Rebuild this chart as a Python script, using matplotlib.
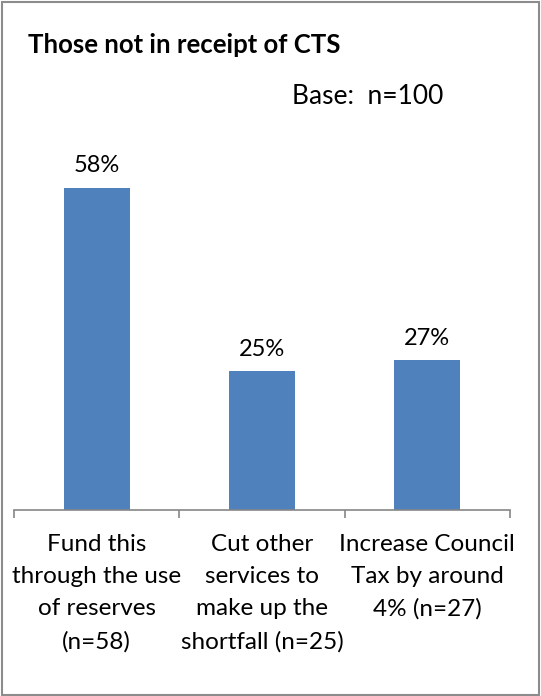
import matplotlib.pyplot as plt
from matplotlib.patches import Rectangle

# Survey options and share of respondents (not in receipt of CTS).
categories = [
    "Fund this\nthrough the use\nof reserves\n(n=58)",
    "Cut other\nservices to\nmake up the\nshortfall (n=25)",
    "Increase Council\nTax by around\n4% (n=27)",
]
values = [58, 25, 27]
value_labels = ["58%", "25%", "27%"]

BAR_COLOR = "#4F81BD"
AXIS_GRAY = "#868686"

plt.rcParams["font.family"] = ["Lato", "DejaVu Sans"]

W, H = 541, 696
fig = plt.figure(figsize=(W / 100, H / 100), dpi=100)

# Outer chart frame.
fig.patches.append(Rectangle((0.003, 0.002), 0.994, 0.995, transform=fig.transFigure,
                             fill=False, edgecolor="#8c8c8c", linewidth=1.5))

ax = fig.add_axes([14 / W, (H - 510) / H, 496 / W, 350 / H])
x = list(range(len(categories)))
bars = ax.bar(x, values, width=0.4, color=BAR_COLOR)
ax.bar_label(bars, labels=value_labels, padding=8, fontsize=17)

ax.set_xlim(-0.5, 2.5)
ax.set_ylim(0, 350 / 5.56)

for side in ("left", "right", "top"):
    ax.spines[side].set_visible(False)
ax.spines["bottom"].set_color(AXIS_GRAY)
ax.spines["bottom"].set_linewidth(1.2)
ax.set_yticks([])

# Boundary tick marks between categories, labels on minor ticks.
ax.set_xticks([-0.5, 0.5, 1.5, 2.5], ["", "", "", ""])
ax.tick_params(axis="x", which="major", direction="out", length=6, width=1.2, color=AXIS_GRAY)
ax.set_xticks(x, categories, minor=True)
ax.tick_params(axis="x", which="minor", length=0, pad=17, labelsize=17.5)
for lbl in ax.get_xticklabels(minor=True):
    lbl.set_linespacing(1.66)

fig.text(28 / W, 1 - 45 / H, "Those not in receipt of CTS", fontsize=18.5,
         fontweight="bold", va="center", ha="left")
fig.text(443 / W, 1 - 97 / H, "Base:  n=100", fontsize=19, va="center", ha="right")

fig.savefig("out.png", dpi=100)
